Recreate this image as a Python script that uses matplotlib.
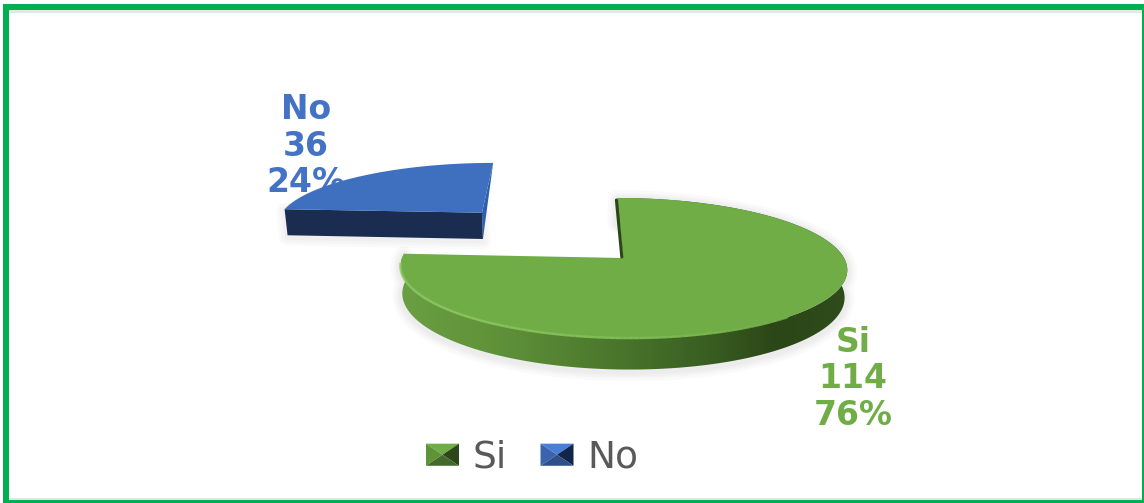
import numpy as np
import matplotlib
matplotlib.use('Agg')
import matplotlib.pyplot as plt
from matplotlib.collections import LineCollection
from matplotlib.colors import LinearSegmentedColormap
from matplotlib.legend_handler import HandlerBase
from matplotlib.patches import Patch, Polygon, Rectangle

labels = ['Si', 'No']
values = [114, 36]

GREEN = '#70AD47'
BLUE = '#4472C4'
FRAME = '#00B050'

# perspective of the pie plane, in pixels
VX, CY = 580, 258
OFFS = 43
RX, RY = 221, 68.6
K = 0.143
DEPTH = 27
EXPLODE = 1.0


def project(x, z, drop=0.0):
    w = 1 + K * z
    sx = VX + (OFFS + RX * x) / w
    sy = CY - RY * z / w + drop / w
    if drop:
        sx = VX + (sx - VX) * 0.99
    return np.column_stack([sx, sy])


def arc(cx, cz, a0, a1, drop=0.0, n=240):
    t = np.radians(np.linspace(a0, a1, n))
    return project(cx + np.cos(t), cz + np.sin(t), drop)


fig = plt.figure(figsize=(11.44, 5.03), dpi=100)
ax = fig.add_axes([0, 0, 1, 1])
ax.set_xlim(0, 1144)
ax.set_ylim(503, 0)
ax.axis('off')

total = sum(values)
si_sweep = 360.0 * values[0] / total
no_sweep = 360.0 * values[1] / total

# slices run clockwise from twelve o'clock
si_a0, si_a1 = 90.0, 90.0 - si_sweep
no_a0, no_a1 = si_a1 + 360.0, si_a1 + 360.0 - no_sweep
mid = np.radians((no_a0 + no_a1) / 2)
no_cx, no_cz = EXPLODE * np.cos(mid), EXPLODE * np.sin(mid)

# data labels sit under the slices
ax.text(306, 146, '%s\n%d\n%d%%' % (labels[1], values[1], round(100 * values[1] / total)),
        color=BLUE, fontsize=23.8, fontweight='bold', ha='center', va='center',
        linespacing=1.13, zorder=1)
ax.text(853, 379, '%s\n%d\n%d%%' % (labels[0], values[0], round(100 * values[0] / total)),
        color=GREEN, fontsize=23.8, fontweight='bold', ha='center', va='center',
        linespacing=1.13, zorder=1)

# green slice
si_top = arc(0, 0, si_a0, si_a1)
si_low = arc(0, 0, si_a0, si_a1, DEPTH)
si_apex = project(np.array([0.0]), np.array([0.0]))
si_wall = np.vstack([si_top, si_low[::-1]])

# soft shadow round the slice
for lw in [14, 10, 7, 4]:
    ax.add_patch(Polygon(si_wall + [0, 2], closed=True, fc='none', ec='#808080',
                         lw=lw, alpha=0.035, joinstyle='round', zorder=2))

wall_cmap = LinearSegmentedColormap.from_list(
    'si_wall', [(0.0, '#6a9f43'), (0.22, '#5f9139'), (0.42, '#4f7d2f'),
                (0.68, '#3a5f22'), (0.84, '#2b4617'), (1.0, '#2f4c1b')])
clip = Polygon(si_wall, closed=True, fc='none', ec='none', transform=ax.transData)
ax.add_patch(clip)
im = ax.imshow(np.linspace(0, 1, 256).reshape(1, -1), cmap=wall_cmap, aspect='auto',
               extent=[si_wall[:, 0].min(), si_wall[:, 0].max(), 380, 190], zorder=3)
im.set_clip_path(clip)
ax.set_xlim(0, 1144)
ax.set_ylim(503, 0)

ax.add_patch(Polygon(np.vstack([si_apex, si_top]), closed=True, fc=GREEN, ec='none', zorder=4))

# light bevel on the front rim, fading out towards the right
rim = arc(0, 0, -176, -50)
rim_segs = np.stack([rim[:-1], rim[1:]], axis=1)
fade = np.linspace(0, 1, len(rim_segs))
light = np.array([0x8c, 0xc7, 0x61]) / 255
base = np.array([0x70, 0xAD, 0x47]) / 255
rim_colors = light + (base - light) * fade[:, None] ** 2
ax.add_collection(LineCollection(rim_segs, colors=rim_colors, linewidths=1.8, zorder=5))

# dark sliver on the cut edge facing the gap
ax.plot([si_top[0, 0] - 1.2, si_apex[0, 0] - 1.2], [si_top[0, 1] + 2, si_apex[0, 1] - 1],
        color='#2b4617', lw=2.2, solid_capstyle='round', zorder=4)

# blue slice, pulled out along its middle angle
no_top = arc(no_cx, no_cz, no_a0, no_a1)
no_low = arc(no_cx, no_cz, no_a0, no_a1, DEPTH + 2)
no_apex = project(np.array([no_cx]), np.array([no_cz]))
no_apex_low = project(np.array([no_cx]), np.array([no_cz]), DEPTH + 2)

front = np.vstack([no_top[:1], no_apex, no_apex_low, no_low[:1]])
for lw in [12, 8, 4]:
    ax.add_patch(Polygon(front + [0, 2], closed=True, fc='none', ec='#808080',
                         lw=lw, alpha=0.035, joinstyle='round', zorder=2))
ax.add_patch(Polygon(np.vstack([no_top[-1:], no_apex, no_apex_low]), closed=True,
                     fc='#2f60ad', ec='none', zorder=4))
ax.add_patch(Polygon(front, closed=True, fc='#1a2c50', ec='none', zorder=4))
ax.add_patch(Polygon(np.vstack([no_apex, no_top]), closed=True, fc='#3F6FBF', ec='none', zorder=5))

# frame
ax.add_patch(Rectangle((3, 10), 1140, 3, fc='#e6e6e6', ec='none', zorder=6))
ax.add_patch(Rectangle((9, 498), 1133, 2, fc='#e2e2e2', ec='none', zorder=6))
for r in [(3, 4, 6, 499), (3, 4, 1141, 6), (1142, 4, 2, 499), (3, 500, 1141, 3)]:
    ax.add_patch(Rectangle((r[0], r[1]), r[2], r[3], fc=FRAME, ec='none', zorder=7))

key_colors = {
    'Si': ['#70AD47', '#5e9338', '#2c4719', '#44692b'],
    'No': ['#4a7fd8', '#3a64ad', '#12254a', '#2e4f88'],
}


class BevelKey(HandlerBase):
    def create_artists(self, legend, orig, xd, yd, w, h, fontsize, trans):
        top, left, right, bottom = key_colors[orig.get_label()]
        x0, y0 = -xd, -yd
        x1, y1 = x0 + w, y0 + h
        cx, cy = (x0 + x1) / 2, (y0 + y1) / 2
        tris = [([(x0, y1), (x1, y1), (cx, cy)], top),
                ([(x0, y0), (x0, y1), (cx, cy)], left),
                ([(x1, y0), (x1, y1), (cx, cy)], right),
                ([(x0, y0), (x1, y0), (cx, cy)], bottom)]
        return [Polygon(p, closed=True, fc=c, ec='none', transform=trans) for p, c in tris]


handles = [Patch(label=s) for s in labels]
ax.legend(handles=handles, loc='center', bbox_to_anchor=(532, 458),
          bbox_transform=ax.transData, ncols=2, frameon=False, fontsize=27,
          labelcolor='#595959', handlelength=0.88, handleheight=0.53,
          handletextpad=0.36, columnspacing=0.9, borderpad=0,
          handler_map={Patch: BevelKey()})

fig.savefig('out.png', dpi=100)
